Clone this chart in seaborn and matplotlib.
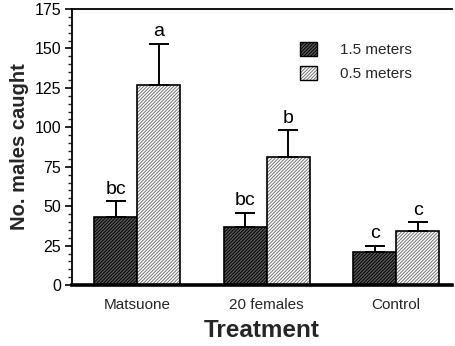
import matplotlib
matplotlib.use("Agg")
import matplotlib.pyplot as plt
import matplotlib.patches as mpatches
import seaborn as sns
import pandas as pd
from matplotlib.ticker import MultipleLocator

# Mean catches and upper standard errors per treatment and trap height
treatments = ["Matsuone", "20 females", "Control"]
heights = ["1.5 meters", "0.5 meters"]
mean_15 = [43, 37, 21]
mean_05 = [127, 81, 34]
upper_15 = [53, 46, 25]
upper_05 = [153, 98, 40]
letters_15 = ["bc", "bc", "c"]
letters_05 = ["a", "b", "c"]

df = pd.DataFrame({
    "Treatment": treatments * 2,
    "Height": [heights[0]] * 3 + [heights[1]] * 3,
    "Males": mean_15 + mean_05,
})

sns.set_theme(style="white")
plt.rcParams["font.family"] = ["Liberation Sans", "DejaVu Sans"]
plt.rcParams["hatch.linewidth"] = 0.7

faces = ["#5a5a5a", "#ffffff"]
hatches = ["//////////", "//////////"]
hatch_colors = [(0, 0, 0, 1), (0.45, 0.45, 0.45, 1)]


def style_patch(p, hatch, hcolor):
    p.set_hatch(hatch)
    try:
        p.set_hatchcolor(hcolor)
    except AttributeError:
        p._hatch_color = hcolor


fig = plt.figure(figsize=(4.56, 3.46), dpi=100)
ax = fig.add_axes([0.158, 0.176, 0.833, 0.798])

sns.barplot(data=df, x="Treatment", y="Males", hue="Height",
            order=treatments, hue_order=heights, width=0.664,
            palette=faces, errorbar=None, legend=False,
            edgecolor="black", linewidth=1.2, saturation=1, ax=ax)

for container, hatch, hc in zip(ax.containers, hatches, hatch_colors):
    for bar in container:
        style_patch(bar, hatch, hc)

# One-sided error bars and significance letters
for container, upper, letters in zip(ax.containers,
                                     [upper_15, upper_05],
                                     [letters_15, letters_05]):
    for bar, top, lab in zip(container, upper, letters):
        xc = bar.get_x() + bar.get_width() / 2
        h = bar.get_height()
        ax.errorbar([xc], [h], yerr=[[0], [top - h]], fmt="none",
                    ecolor="black", elinewidth=1.4, capsize=7.5,
                    capthick=1.4, zorder=5)
        ax.annotate(lab, (xc, top), xytext=(0, 2.5), textcoords="offset points",
                    ha="center", va="bottom", fontsize=14, color="black")

ax.set_ylim(0, 175)
ax.set_xlim(-0.502, 2.43)
ax.yaxis.set_major_locator(MultipleLocator(25))
ax.yaxis.set_minor_locator(MultipleLocator(5))
ax.tick_params(axis="y", which="major", direction="out", length=5, width=1.2,
               labelsize=11.5, left=True, pad=3, colors="black")
ax.tick_params(axis="y", which="minor", direction="out", length=3, width=1.0,
               left=True)
ax.tick_params(axis="x", which="both", length=0, labelsize=11, pad=9)

ax.spines["right"].set_visible(False)
ax.spines["left"].set_linewidth(1.3)
ax.spines["top"].set_linewidth(1.3)
ax.spines["bottom"].set_linewidth(2.6)
for s in ax.spines.values():
    s.set_color("black")

ax.set_xlabel("Treatment", fontsize=17.5, fontweight="bold", labelpad=5)
ax.set_ylabel("No. males caught", fontsize=14.5, fontweight="bold", labelpad=4)

handles = []
for f, h, hc, lab in zip(faces, hatches, hatch_colors, heights):
    p = mpatches.Patch(facecolor=f, edgecolor="black", linewidth=1.0, label=lab)
    style_patch(p, h, hc)
    handles.append(p)
leg = ax.legend(handles=handles, loc="upper left", bbox_to_anchor=(0.565, 0.93),
                frameon=False, fontsize=11, handlelength=1.1, handleheight=1.0,
                handletextpad=1.5, labelspacing=0.6)
for p, h, hc in zip(leg.get_patches(), hatches, hatch_colors):
    style_patch(p, h, hc)

fig.savefig("out.png", dpi=100, facecolor="white")
